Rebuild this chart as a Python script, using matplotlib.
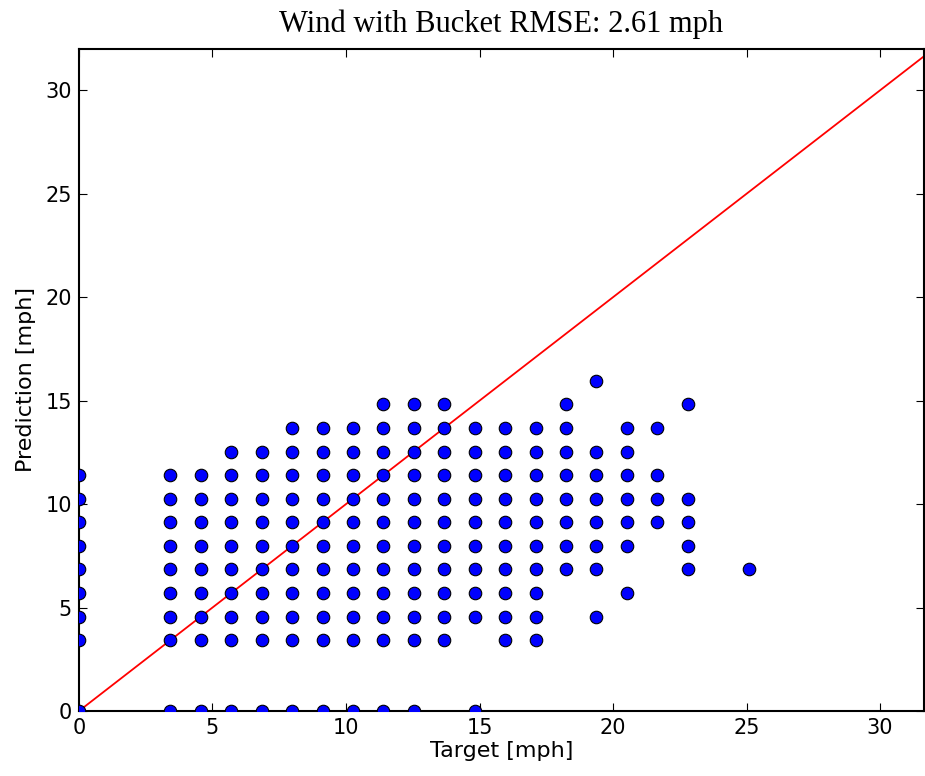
import numpy as np
import matplotlib
matplotlib.use('Agg')
import matplotlib.pyplot as plt

# wind speed buckets seen on both axes (mph)
target_cols = [0.0, 3.42, 4.56, 5.70, 6.84, 7.98, 9.12, 10.26, 11.40, 12.54,
               13.68, 14.82, 15.96, 17.10, 18.24, 19.38, 20.52, 21.66, 22.80, 25.08]

# predicted buckets present for each target column
pred_per_col = [
    [0.0, 3.42, 4.56, 5.70, 6.84, 7.98, 9.12, 10.26, 11.40],
    [0.0, 3.42, 4.56, 5.70, 6.84, 7.98, 9.12, 10.26, 11.40],
    [0.0, 3.42, 4.56, 5.70, 6.84, 7.98, 9.12, 10.26, 11.40],
    [0.0, 3.42, 4.56, 5.70, 6.84, 7.98, 9.12, 10.26, 11.40, 12.54],
    [0.0, 3.42, 4.56, 5.70, 6.84, 7.98, 9.12, 10.26, 11.40, 12.54],
    [0.0, 3.42, 4.56, 5.70, 6.84, 7.98, 9.12, 10.26, 11.40, 12.54, 13.68],
    [0.0, 3.42, 4.56, 5.70, 6.84, 7.98, 9.12, 10.26, 11.40, 12.54, 13.68],
    [0.0, 3.42, 4.56, 5.70, 6.84, 7.98, 9.12, 10.26, 11.40, 12.54, 13.68],
    [0.0, 3.42, 4.56, 5.70, 6.84, 7.98, 9.12, 10.26, 11.40, 12.54, 13.68, 14.82],
    [0.0, 3.42, 4.56, 5.70, 6.84, 7.98, 9.12, 10.26, 11.40, 12.54, 13.68, 14.82],
    [3.42, 4.56, 5.70, 6.84, 7.98, 9.12, 10.26, 11.40, 12.54, 13.68, 14.82],
    [0.0, 4.56, 5.70, 6.84, 7.98, 9.12, 10.26, 11.40, 12.54, 13.68],
    [3.42, 4.56, 5.70, 6.84, 7.98, 9.12, 10.26, 11.40, 12.54, 13.68],
    [3.42, 4.56, 5.70, 6.84, 7.98, 9.12, 10.26, 11.40, 12.54, 13.68],
    [6.84, 7.98, 9.12, 10.26, 11.40, 12.54, 13.68, 14.82],
    [4.56, 6.84, 7.98, 9.12, 10.26, 11.40, 12.54, 15.96],
    [5.70, 7.98, 9.12, 10.26, 11.40, 12.54, 13.68],
    [9.12, 10.26, 11.40, 13.68],
    [6.84, 7.98, 9.12, 10.26, 14.82],
    [6.84],
]

target = []
prediction = []
for t, preds in zip(target_cols, pred_per_col):
    for p in preds:
        target.append(t)
        prediction.append(p)

plt.rcParams['font.family'] = 'DejaVu Sans'
plt.rcParams['xtick.direction'] = 'in'
plt.rcParams['ytick.direction'] = 'in'

fig = plt.figure(figsize=(9.25, 7.76), dpi=100)
ax = fig.add_axes([0.0854, 0.0838, 0.9136, 0.8531])

# points are clipped at the spines like in the original
ax.plot(target, prediction, 'o', markersize=9, markerfacecolor='blue',
        markeredgecolor='black', markeredgewidth=0.8, zorder=3)
ax.plot([0, 40], [0, 40], color='red', linewidth=1.3, zorder=2)

ax.set_xlim(0, 31.65)
ax.set_ylim(0, 32.0)
ax.set_xticks([0, 5, 10, 15, 20, 25, 30])
ax.set_yticks([0, 5, 10, 15, 20, 25, 30])
ax.tick_params(axis='both', which='major', labelsize=15, length=6, width=0.8,
               top=True, right=True, pad=5)
for s in ax.spines.values():
    s.set_linewidth(1.5)

ax.set_xlabel('Target [mph]', fontsize=16, labelpad=2)
ax.set_ylabel('Prediction [mph]', fontsize=16, labelpad=7)
ax.set_title('Wind with Bucket RMSE: 2.61 mph', fontsize=22,
             family='Liberation Serif', pad=12)

fig.savefig('out.png', dpi=100)
